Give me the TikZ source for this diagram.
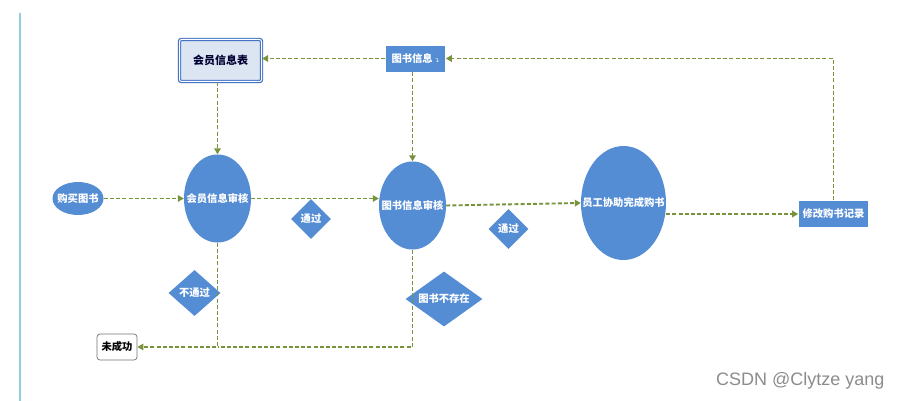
\documentclass[tikz,border=0pt]{standalone}
\usepackage{fontspec}
\setmainfont{Liberation Sans}
\newfontfamily\cjk{Noto Sans CJK SC}
\newfontfamily\djv{DejaVu Sans}
\usetikzlibrary{shapes.geometric,arrows.meta,positioning}
\definecolor{fillblue}{RGB}{85,141,213}
\definecolor{flowgreen}{RGB}{119,147,60}
\definecolor{sideblue}{RGB}{146,205,230}
\definecolor{lightbox}{RGB}{220,230,242}
\definecolor{boxedge}{RGB}{68,114,196}
\tikzset{
  whitetext/.style={text=white, font=\cjk\bfseries\fontsize{10.3}{12}\selectfont},
  blueell/.style={ellipse, fill=fillblue, draw=none, inner sep=0pt},
  ellabel/.style={label={[whitetext, inner sep=0pt]center:#1}},
  bluerect/.style={rectangle, fill=fillblue, draw=white, line width=0.6pt, inner sep=0pt, whitetext},
  bluediam/.style={diamond, fill=fillblue, draw=none, inner sep=0pt},
  flow/.style={draw=flowgreen, line width=1.9pt, dash pattern=on 4pt off 2.2pt, -{Triangle[length=6pt,width=6.5pt]}},
  flowplain/.style={draw=flowgreen, line width=1.9pt, dash pattern=on 4pt off 2.2pt}
}
\begin{document}
\begin{tikzpicture}[x=1pt,y=-1pt]
\useasboundingbox (0,0) rectangle (899,401);
\fill[white] (0,0) rectangle (899,401);
\draw[sideblue, line width=1.6pt] (20,13) -- (20,401);

% nodes
\node[rectangle, fill=lightbox, draw=boxedge, double=white, double distance=1pt, line width=1.2pt, rounded corners=2pt,
      minimum width=82pt, minimum height=42pt, inner sep=0pt, text=black!80!blue,
      font=\cjk\bfseries\fontsize{11}{13}\selectfont] (hyb) at (220.5,60.5) {会员信息表};
\node[bluerect, minimum width=60pt, minimum height=27pt] (tsxx) at (415.5,58.5) {图书信息\,{\djv\mdseries\fontsize{6}{6}\selectfont ↴}};
\node[blueell, minimum width=51pt, minimum height=33pt, ellabel=购买图书] (gmts) at (78,198.5) {};
\node[blueell, minimum width=67pt, minimum height=88pt, ellabel=会员信息审核] (hysh) at (217.5,198.5) {};
\node[blueell, minimum width=67pt, minimum height=88pt, ellabel=图书信息审核] (tssh) at (412.5,205.5) {};
\node[blueell, minimum width=85pt, minimum height=114pt, ellabel=员工协助完成购书] (ygxz) at (623.5,203) {};
\node[bluerect, minimum width=70pt, minimum height=27pt] (xgjl) at (833.5,214) {修改购书记录};
\node[bluediam, minimum width=40pt, minimum height=40pt, ellabel=通过] (tg1) at (311,219) {};
\node[bluediam, minimum width=40pt, minimum height=40pt, ellabel=通过] (tg2) at (508.5,229) {};
\node[bluediam, minimum width=52pt, minimum height=46pt, ellabel=不通过] (btg) at (194.5,293) {};
\node[bluediam, minimum width=77pt, minimum height=55pt, ellabel=图书不存在] (tsbcz) at (444,299) {};
\node[rectangle, rounded corners=3pt, draw=black!55, fill=white, line width=0.7pt, minimum width=40pt, minimum height=26pt,
      inner sep=0pt, font=\cjk\bfseries\fontsize{10.3}{12}\selectfont] (wcg) at (117,347) {未成功};

\coordinate (c1) at (217.5,347);

% connectors
\draw[flow] (gmts.east) -- (hysh.west);
\draw[flow] (hyb.south -| hysh.north) -- (hysh.north);
\draw[flow] (hysh.east) -- (hysh.east -| tssh.west);
\draw[flow] (tsxx.south -| tssh.north) -- (tssh.north);
\draw[flow] (tsxx.west) -- (tsxx.west -| hyb.east);
\draw[flow] (tssh.east) -- (ygxz.west);
\draw[flow] (ygxz.east |- xgjl.west) -- (xgjl.west);
\draw[flow] (xgjl.north) |- (tsxx.east);
\draw[flow] (hysh.south) |- (wcg.east);
\draw[flowplain] (tssh.south) |- (c1);

\node[text=black!45, font=\fontsize{18}{20}\selectfont, anchor=west, inner sep=0pt] (wm) at (716,381) {CSDN @Clytze yang};
\end{tikzpicture}
\end{document}
